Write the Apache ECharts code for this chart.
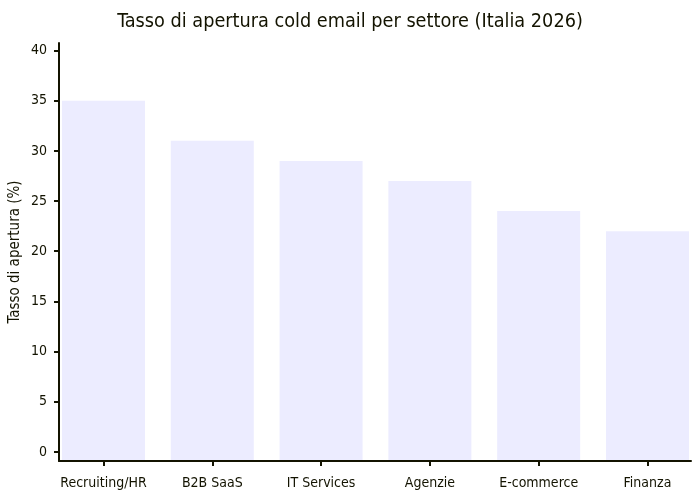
<!DOCTYPE html>
<html>
<head>
<meta charset="utf-8">
<script src="https://cdn.jsdelivr.net/npm/echarts@6/dist/echarts.min.js"></script>
<style>
html, body { margin: 0; padding: 0; background: #fff; }
#main { width: 700px; height: 500px; }
</style>
</head>
<body>
<div id="main"></div>
<script>
var titleText = 'Tasso di apertura cold email per settore (Italia 2026)';
var yName = 'Tasso di apertura (%)';
var settori = ['Recruiting/HR', 'B2B SaaS', 'IT Services', 'Agenzie', 'E-commerce', 'Finanza'];
var tassi = [35, 31, 29, 27, 24, 22];
var yTicks = [0, 5, 10, 15, 20, 25, 30, 35, 40];
var xTicks = [0, 1, 2, 3, 4, 5];

var font = 'DejaVu Sans Condensed, DejaVu Sans, sans-serif';
var ink = '#131300';

var chart = echarts.init(document.getElementById('main'));

// ogni barra parte dalla linea dell'asse x (come nel grafico originale)
function drawBar(params, api) {
	var top = api.coord([api.value(0), api.value(1)]);
	var w = api.size([0.763, 0])[0];
	var bottom = params.coordSys.y + params.coordSys.height - 1;
	return {
		type: 'rect',
		shape: { x: top[0] - w / 2, y: top[1], width: w, height: bottom - top[1] },
		style: { fill: '#ECECFF' }
	};
}

var option = {
	animation: false,
	title: {
		text: titleText,
		left: 'center',
		top: 7,
		textStyle: { fontFamily: font, fontSize: 19.7, fontWeight: 'normal', color: ink }
	},
	grid: { left: 59, right: 9, top: 43, bottom: 39, outerBoundsMode: 'none', containLabel: false },
	xAxis: {
		type: 'value',
		min: -0.409,
		max: 5.40,
		splitLine: { show: false },
		axisLine: { onZero: false, lineStyle: { color: ink, width: 2 } },
		axisTick: { customValues: xTicks, length: 5, lineStyle: { color: ink, width: 2 } },
		axisLabel: {
			customValues: xTicks,
			margin: 15,
			fontFamily: font, fontSize: 14, color: ink,
			formatter: function (v) { return settori[Math.round(v)] || ''; }
		}
	},
	yAxis: {
		type: 'value',
		name: yName,
		nameLocation: 'middle',
		nameGap: 36,
		nameMoveOverlap: false,
		nameTextStyle: { fontFamily: font, fontSize: 15, color: ink },
		min: -0.9,
		max: 40.75,
		splitLine: { show: false },
		axisLine: { show: true, onZero: false, lineStyle: { color: ink, width: 2 } },
		axisTick: { show: true, customValues: yTicks, length: 5, lineStyle: { color: ink, width: 2 } },
		axisLabel: { customValues: yTicks, margin: 12, fontFamily: font, fontSize: 14, color: ink }
	},
	series: [{
		type: 'custom',
		z: 1,
		renderItem: drawBar,
		data: tassi.map(function (v, i) { return [i, v]; })
	}]
};

chart.setOption(option);
</script>
</body>
</html>
